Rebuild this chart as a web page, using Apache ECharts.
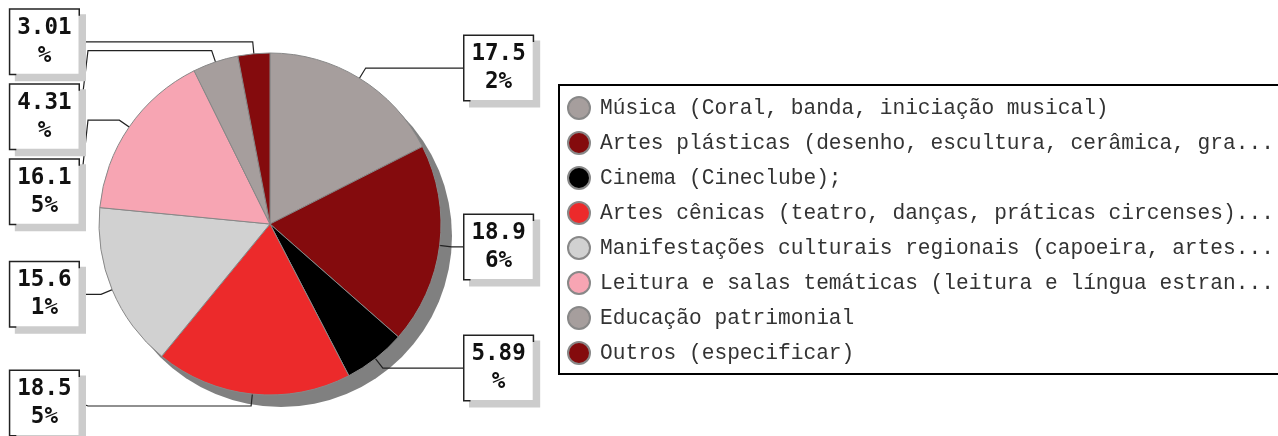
<!DOCTYPE html>
<html>
<head>
<meta charset="utf-8">
<script src="https://cdn.jsdelivr.net/npm/echarts@6/dist/echarts.min.js"></script>
<style>
  html, body { margin: 0; padding: 0; background: #fff; overflow: hidden; }
  #main { width: 1320px; height: 436px; }
</style>
</head>
<body>
<div id="main"></div>
<script>
var names = [
    'Música (Coral, banda, iniciação musical)',
    'Artes plásticas (desenho, escultura, cerâmica, gra...',
    'Cinema (Cineclube);',
    'Artes cênicas (teatro, danças, práticas circenses)...',
    'Manifestações culturais regionais (capoeira, artes...',
    'Leitura e salas temáticas (leitura e língua estran...',
    'Educação patrimonial',
    'Outros (especificar)'
];
var values = [17.52, 18.96, 5.89, 18.55, 15.61, 16.15, 4.31, 3.01];
var colors = ['#a69e9d', '#840b0d', '#000000', '#ec2a2b', '#d1d1d1', '#f7a5b3', '#a69e9d', '#840b0d'];

var CX = 270, CY = 224, R = 171;

/** 标签位置: 引线从扇区内部出发 */
var total = values.reduce(function (a, b) { return a + b; }, 0);
var geo = [];
var acc = 0;
for (var i = 0; i < values.length; i++) {
    var ang = (acc + values[i] / 2) / total * 2 * Math.PI;
    acc += values[i];
    var dx = Math.sin(ang), dy = -Math.cos(ang);
    geo.push({
        left: dx < 0,
        start: [CX + dx * R * 0.9, CY + dy * R * 0.9],
        elbow: [CX + dx * (R + 12), CY + dy * (R + 12)]
    });
}
[true, false].forEach(function (side) {
    var list = geo.filter(function (g) { return g.left === side; })
        .sort(function (a, b) { return a.elbow[1] - b.elbow[1]; });
    var prev = -Infinity;
    list.forEach(function (g) { g.y = Math.max(g.elbow[1], prev + 75); prev = g.y; });
    var maxY = 436 - 33;
    for (var k = list.length - 1; k >= 0; k--) {
        if (list[k].y > maxY) list[k].y = maxY;
        maxY = list[k].y - 75;
    }
});

var chart = echarts.init(document.getElementById('main'));
var option = {
    animation: false,
    legend: {
        orient: 'vertical',
        left: 559,
        top: 85,
        icon: 'circle',
        itemWidth: 32,
        itemHeight: 22,
        itemGap: 11,
        padding: [11, 60, 9, 8],
        borderColor: '#000',
        borderWidth: 2,
        backgroundColor: '#fff',
        selectedMode: false,
        textStyle: {
            fontFamily: "'Courier New', 'Liberation Mono', monospace",
            fontSize: 21.2,
            color: '#333'
        },
        data: names
    },
    series: [
        {
            name: 'sombra',
            type: 'pie',
            silent: true,
            z: 1,
            center: [CX + 11, CY + 12],
            radius: R,
            data: [{ name: 'sombra', value: 1 }],
            itemStyle: { color: '#808080' },
            label: { show: false },
            labelLine: { show: false },
            emphasis: { disabled: true }
        },
        {
            name: 'Atividades',
            type: 'pie',
            z: 2,
            center: [CX, CY],
            radius: R,
            startAngle: 90,
            avoidLabelOverlap: false,
            emphasis: { disabled: true },
            itemStyle: { borderColor: '#888', borderWidth: 1 },
            data: names.map(function (n, i) {
                return { name: n, value: values[i], itemStyle: { color: colors[i] } };
            }),
            label: {
                show: true,
                position: 'outside',
                formatter: function (p) {
                    var s = p.value.toFixed(2) + '%';
                    return s.slice(0, 4) + '\n' + s.slice(4);
                },
                fontFamily: "'DejaVu Sans Mono', monospace",
                fontWeight: 'bold',
                fontSize: 22.5,
                lineHeight: 28,
                color: '#111',
                backgroundColor: '#fff',
                borderColor: '#222',
                borderWidth: 1.5,
                padding: [4, 7],
                shadowColor: '#cccccc',
                shadowOffsetX: 6,
                shadowOffsetY: 6,
                shadowBlur: 0
            },
            labelLine: {
                show: true,
                length: 12,
                length2: 20,
                smooth: false,
                lineStyle: { color: '#222', width: 1.2 }
            },
            labelLayout: function (params) {
                var g = geo[params.dataIndex];
                var w = params.labelRect.width;
                var edge = g.left ? 80 : 463;
                var bend = g.left ? 88 : 455;
                return {
                    x: g.left ? edge - w / 2 : edge + w / 2,
                    y: g.y,
                    align: 'center',
                    verticalAlign: 'middle',
                    labelLinePoints: [g.start, g.elbow, [bend, g.elbow[1]], [edge, g.y]]
                };
            }
        }
    ]
};
chart.setOption(option);
</script>
</body>
</html>
